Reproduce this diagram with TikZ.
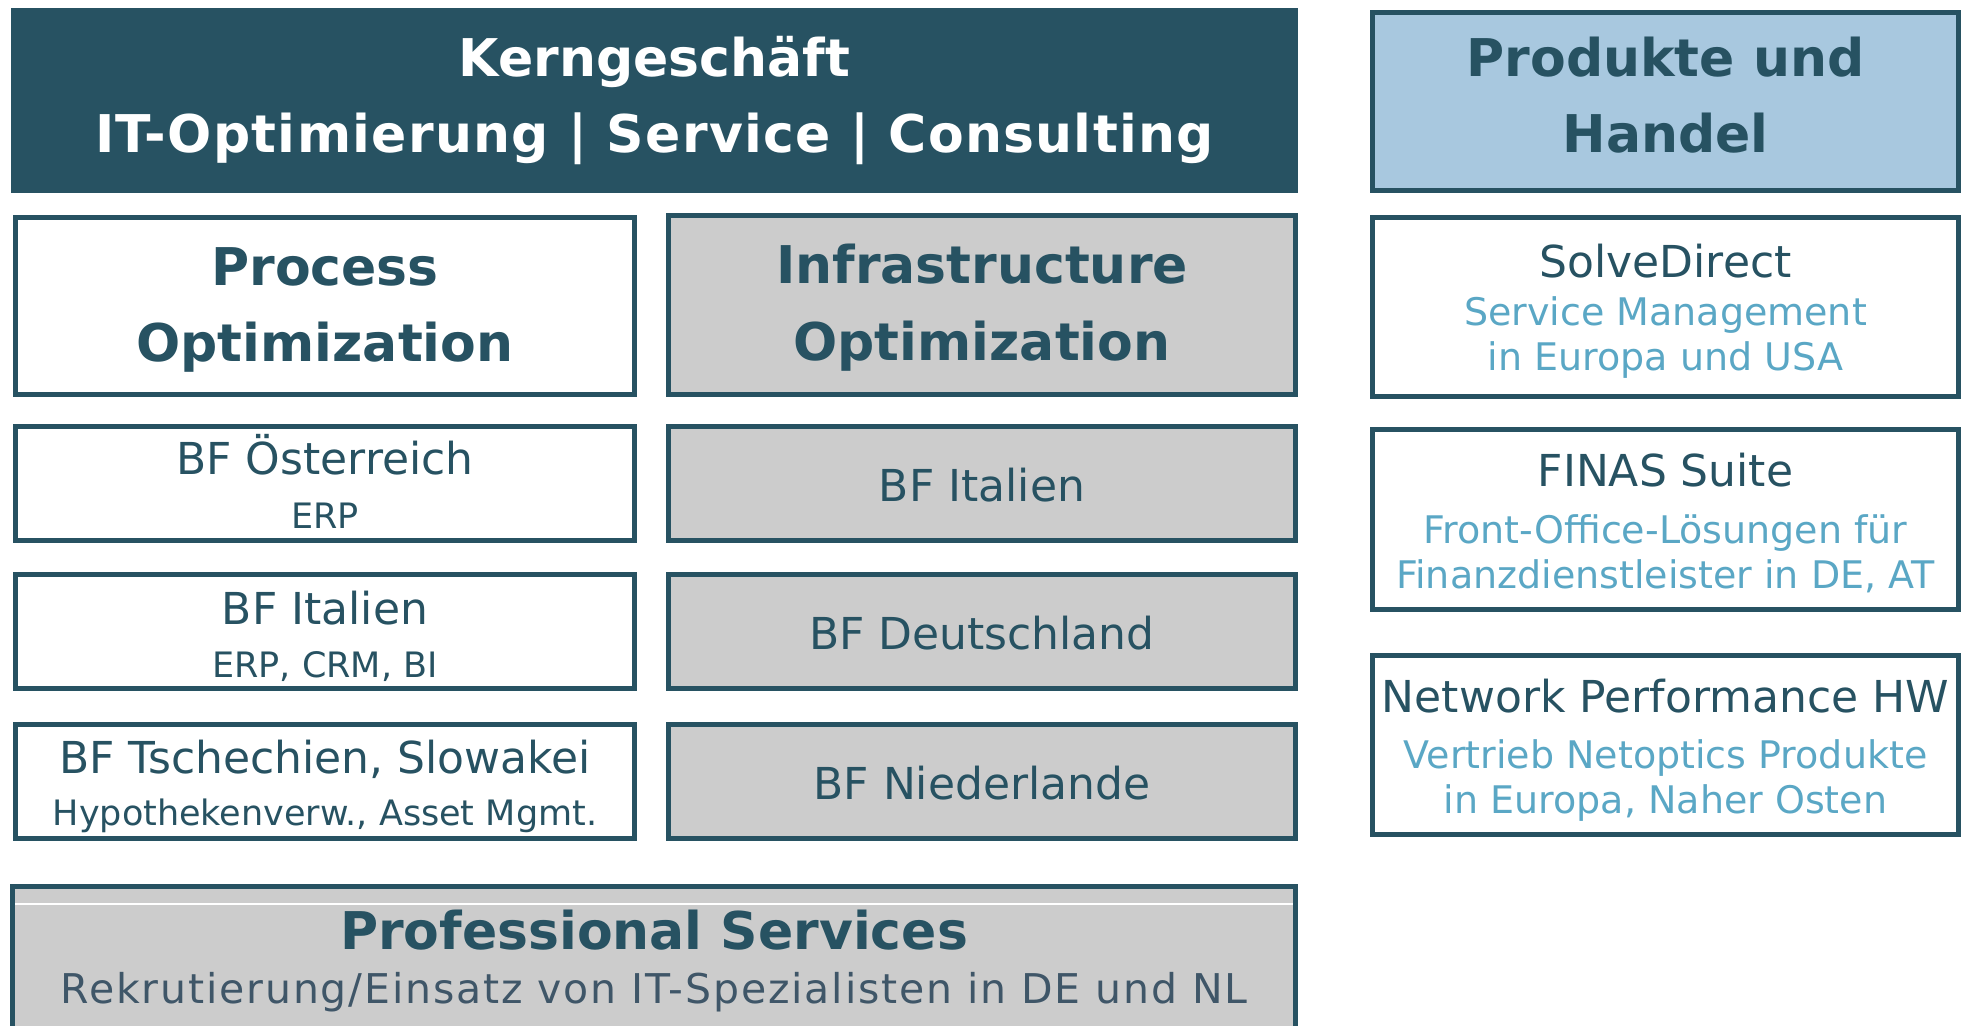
\documentclass[tikz,border=0pt]{standalone}
\usepackage{fontspec}
\setmainfont{DejaVu Sans}
\newfontfamily\widesans[LetterSpace=2.5]{DejaVu Sans}
\newfontfamily\widersans[LetterSpace=4.5]{DejaVu Sans}
\definecolor{bfteal}{HTML}{275262}
\definecolor{bfsky}{HTML}{A8C8DF}
\definecolor{bfgray}{HTML}{CCCCCC}
\definecolor{bfblue}{HTML}{5AA7C5}
\definecolor{bfslate}{HTML}{3F5668}
\tikzset{
  box/.style={draw=bfteal, line width=2.5pt, inner sep=0pt},
  whitebox/.style={box, fill=white},
  graybox/.style={box, fill=bfgray},
  headtxt/.style={anchor=base, text=bfteal, font=\fontsize{26}{30}\selectfont\bfseries},
  maintxt/.style={anchor=base, text=bfteal, font=\fontsize{22}{26}\selectfont},
  subtxt/.style={anchor=base, text=bfteal, font=\fontsize{17.5}{21}\selectfont},
  bluetxt/.style={anchor=base, text=bfblue, font=\fontsize{19}{23}\selectfont},
}
\begin{document}
\begin{tikzpicture}[x=0.5pt,y=-0.5pt]
    \clip (0,0) rectangle (1968,1026);
    % Header boxes
    \node[fill=bfteal, inner sep=0pt, minimum width=643.5pt, minimum height=92.5pt] (kern) at (654.5,100.5) {};
    \node[box, fill=bfsky, minimum width=293pt, minimum height=89pt] (prod) at (1665.5,101.5) {};
    \node[headtxt, text=white] (kern-a) at (654.5,77) {Kerngeschäft};
    \node[headtxt, text=white, font=\fontsize{26}{30}\widesans\bfseries] (kern-b) at (654.5,153)
         {IT-Optimierung | Service | Consulting};
    \node[headtxt] (prod-a) at (1665.5,77) {Produkte und};
    \node[headtxt] (prod-b) at (1665.5,153) {Handel};
    % Column heads
    \node[whitebox, minimum width=309.5pt, minimum height=88.5pt] (proc) at (325,306) {};
    \node[graybox, minimum width=313.5pt, minimum height=89.5pt] (infra) at (982,305) {};
    \node[headtxt] (proc-a) at (325,286) {Process};
    \node[headtxt] (proc-b) at (325,362) {Optimization};
    \node[headtxt] (infra-a) at (982,284) {Infrastructure};
    \node[headtxt] (infra-b) at (982,360) {Optimization};
    % Process optimization units
    \node[whitebox, minimum width=309.5pt, minimum height=57pt] (at) at (325,483.5) {};
    \node[whitebox, minimum width=309.5pt, minimum height=57pt] (it) at (325,631.5) {};
    \node[whitebox, minimum width=309.5pt, minimum height=57pt] (cz) at (325,781.5) {};
    \node[maintxt] (at-a) at (325,474) {BF Österreich};
    \node[subtxt] (at-b) at (325,528) {ERP};
    \node[maintxt] (it-a) at (325,624) {BF Italien};
    \node[subtxt] (it-b) at (325,677) {ERP, CRM, BI};
    \node[maintxt] (cz-a) at (325,773) {BF Tschechien, Slowakei};
    \node[subtxt] (cz-b) at (325,825) {Hypothekenverw., Asset Mgmt.};
    % Infrastructure optimization units
    \foreach \name/\y/\txt in {iti/483.5/BF Italien, de/631.5/BF Deutschland, nl/781.5/BF Niederlande}{
      \node[graybox, minimum width=313.5pt, minimum height=57pt] (\name) at (982,\y) {};
      \node[maintxt, anchor=center, yshift=-0.8pt] (\name-a) at (\name.center) {\txt};
    }
    % Professional services
    \node[graybox, minimum width=641.5pt, minimum height=85.5pt] (prof) at (654,972) {};
    \draw[white, line width=0.6pt] (15,904) -- (1293,904);
    \node[headtxt] (prof-a) at (654,949) {Professional Services};
    \node[anchor=base, text=bfslate, font=\fontsize{20.5}{24}\widersans] (prof-b) at (654,1003)
         {Rekrutierung/Einsatz von IT-Spezialisten in DE und NL};
    % Products
    \node[whitebox, minimum width=293pt, minimum height=89.5pt] (solve) at (1665.5,307) {};
    \node[whitebox, minimum width=293pt, minimum height=90pt] (finas) at (1665.5,519.5) {};
    \node[whitebox, minimum width=293pt, minimum height=89.5pt] (net) at (1665.5,745) {};
    \node[maintxt] (solve-a) at (1665.5,278) {SolveDirect};
    \node[bluetxt] (solve-b) at (1665.5,326) {Service Management};
    \node[bluetxt] (solve-c) at (1665.5,371) {in Europa und USA};
    \node[maintxt] (finas-a) at (1665.5,486) {FINAS Suite};
    \node[bluetxt] (finas-b) at (1665.5,543) {Front-Office-Lösungen für};
    \node[bluetxt] (finas-c) at (1665.5,588) {Finanzdienstleister in DE, AT};
    \node[maintxt] (net-a) at (1665.5,712) {Network Performance HW};
    \node[bluetxt] (net-b) at (1665.5,768) {Vertrieb Netoptics Produkte};
    \node[bluetxt] (net-c) at (1665.5,813) {in Europa, Naher Osten};
\end{tikzpicture}
\end{document}
